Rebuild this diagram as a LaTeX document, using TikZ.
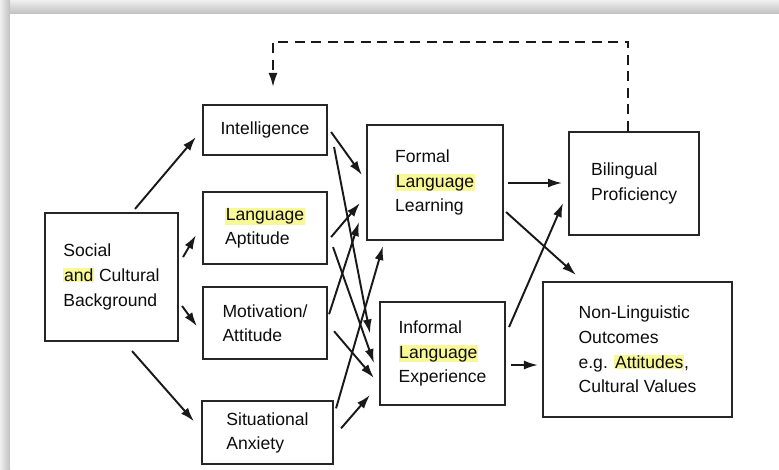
\documentclass[tikz,border=0pt]{standalone}
\usepackage{fontspec}
\setmainfont{Liberation Sans}
\usepackage{xcolor}
\usetikzlibrary{positioning, arrows.meta, calc}

\definecolor{markyellow}{RGB}{248,248,150}
\newcommand{\marked}[1]{{\setlength{\fboxsep}{0.4pt}\colorbox{markyellow}{#1}}}

\begin{document}
\begin{tikzpicture}[
  x=0.2mm, y=-0.2mm,
  font=\fontsize{10}{14}\selectfont,
  >={Latex[length=2.8mm, width=1.8mm]},
  factorbox/.style={
    draw=black!85, line width=1.2pt, align=left, inner sep=0pt, text=black!95
  },
  link/.style={->, line width=1.1pt, black!90}
]
\useasboundingbox (0,0) rectangle (779,469);

% frame with soft shadow
\shade[top color=gray!12, bottom color=gray!50] (0,0) rectangle (779,14);
\shade[left color=gray!12, right color=gray!50] (0,0) rectangle (10,469);
\fill[white] (10,14) rectangle (779,469);

% Left: background factor
\node[factorbox, minimum width=26.6mm, minimum height=25.6mm] (social) at (111.5,277)
  {Social\\\marked{and} Cultural\\Background};

% Column of individual factors
\node[factorbox, minimum width=24.8mm, minimum height=10mm] (intel) at (265,130) {Intelligence};
\node[factorbox, minimum width=24.8mm, minimum height=14.4mm, below=7mm of intel] (aptitude)
  {\marked{Language}\\Aptitude};
\node[factorbox, minimum width=24.8mm, minimum height=14.4mm, below=4.2mm of aptitude] (motiv)
  {Motivation/\\Attitude};
\node[factorbox, minimum width=26.2mm, minimum height=12.6mm, below=8mm of motiv, xshift=0.5mm] (anxiety)
  {Situational\\Anxiety};

% Learning contexts
\node[factorbox, minimum width=27.2mm, minimum height=23mm] (formal) at (435,182.5)
  {Formal\\\marked{Language}\\Learning};
\node[factorbox, minimum width=25mm, minimum height=20.6mm] (informal) at (442.5,353.5)
  {Informal\\\marked{Language}\\Experience};

% Outcomes
\node[factorbox, minimum width=26mm, minimum height=20.6mm, right=12.8mm of formal, yshift=-0.2mm] (biling)
  {Bilingual\\Proficiency};
\node[factorbox, minimum width=37.8mm, minimum height=27mm] (nonling) at (637.5,349.5)
  {Non-Linguistic\\Outcomes\\e.g. \marked{Attitudes},\\Cultural Values};

% Social background -> factors
\draw[link] ($(social.north)+(23.5,-3)$) -- ($(intel.west)+(-6,7)$);
\draw[link] ($(social.east)+(4,-20)$) -- ($(aptitude.west)+(-6,7)$);
\draw[link] ($(social.east)+(3,29)$) -- ($(motiv.west)+(-5,3)$);
\draw[link] ($(social.south)+(20.5,9)$) -- ($(anxiety.west)+(-7,-11.5)$);

% Factors -> formal / informal
\draw[link] ($(intel.east)+(3,2)$) -- ($(formal.west)+(-4,-7.5)$);
\draw[link] ($(intel.east)+(6,17)$) -- ($(informal.west)+(-9,-20)$);
\draw[link] ($(aptitude.east)+(3,9)$) -- ($(formal.west)+(-6,20.5)$);
\draw[link] ($(aptitude.east)+(5,19)$) -- ($(informal.west)+(-5,9.5)$);
\draw[link] ($(motiv.east)+(1,-9)$) -- ($(formal.west)+(-7,39.5)$);
\draw[link] ($(motiv.east)+(6,8)$) -- ($(informal.west)+(-5,24.5)$);
\draw[link] ($(anxiety.east)+(2,-24.5)$) -- ($(formal.south)+(-52,5)$);
\draw[link] ($(anxiety.east)+(7,-4.5)$) -- ($(informal.west)+(-9,41.5)$);

% Contexts -> outcomes
\draw[link] ($(formal.east)+(4,0.5)$) -- ($(biling.west)+(-6,-0.5)$);
\draw[link] ($(formal.east)+(2,29.5)$) -- ($(nonling.north)+(-61.5,-6)$);
\draw[link] ($(informal.east)+(3,-26.5)$) -- ($(biling.west)+(-5,19.5)$);
\draw[link] ($(informal.east)+(5,11.5)$) -- ($(nonling.west)+(-4,15.5)$);

% Feedback loop: proficiency -> intelligence
\draw[link, dash pattern=on 2mm off 1.3mm]
  ($(biling.north)+(-6,0)$) -- ++(0,-89) -| ($(intel.north)+(8,-17)$);

\end{tikzpicture}
\end{document}
